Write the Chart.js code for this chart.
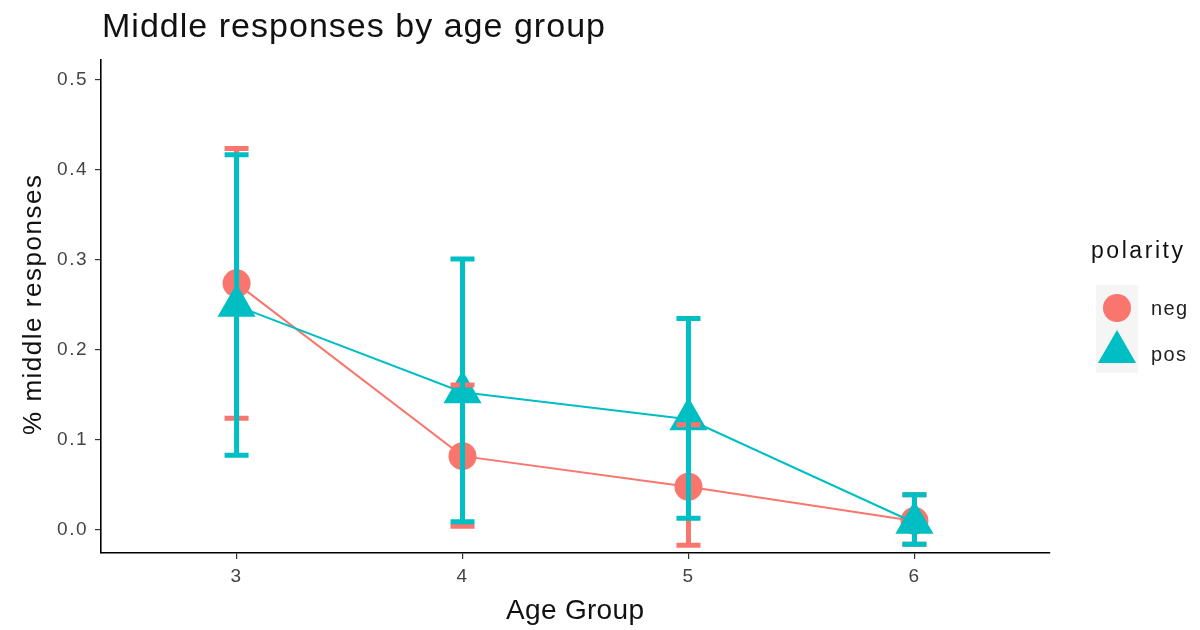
<!DOCTYPE html>
<html>
<head>
<meta charset="utf-8">
<title>Middle responses by age group</title>
<script src="https://cdn.jsdelivr.net/npm/chart.js"></script>
<style>
  html, body { margin: 0; padding: 0; background: #ffffff; }
  canvas { display: block; }
</style>
</head>
<body>
<canvas id="chart" width="1200" height="630"></canvas>
<script>
// Age groups on the x axis
const ageGroups = [3, 4, 5, 6];

// Share of middle responses, negative-polarity items
const negMean  = [0.274, 0.082, 0.048, 0.010];
const negLower = [0.124, 0.004, -0.017, -0.016];
const negUpper = [0.424, 0.161, 0.117, 0.039];

// Share of middle responses, positive-polarity items
const posMean  = [0.249, 0.153, 0.123, 0.008];
const posLower = [0.083, 0.009, 0.013, -0.016];
const posUpper = [0.417, 0.301, 0.235, 0.039];

// Axis tick values
const yTickValues = [0, 0.1, 0.2, 0.3, 0.4, 0.5];
const xTickValues = ageGroups;

const seriesNames = ['neg', 'pos'];
const legendTitle = 'polarity';
const chartTitle = 'Middle responses by age group';
const xTitle = 'Age Group';
const yTitle = '% middle responses';

const NEG_COLOR = '#F8766D';
const POS_COLOR = '#00BFC4';
const FONT = "'Liberation Sans', Arial, Helvetica, sans-serif";

function toPoints(xs, ys) {
  return xs.map((x, i) => ({ x: x, y: ys[i] }));
}

// Draw text spread out so that it fills the given width
function spreadText(ctx, text, x, y, size, width, color) {
  ctx.save();
  ctx.font = size + 'px ' + FONT;
  ctx.fillStyle = color;
  ctx.textAlign = 'left';
  ctx.textBaseline = 'alphabetic';
  if ('letterSpacing' in ctx) {
    ctx.letterSpacing = '0px';
    const w = ctx.measureText(text).width;
    const gap = text.length > 1 ? Math.max(0, (width - w) / (text.length - 1)) : 0;
    ctx.letterSpacing = gap.toFixed(2) + 'px';
  }
  ctx.fillText(text, x, y);
  ctx.restore();
}

function drawCircle(ctx, x, y, r, color) {
  ctx.beginPath();
  ctx.arc(x, y, r, 0, Math.PI * 2);
  ctx.fillStyle = color;
  ctx.fill();
}

function drawTriangle(ctx, x, y, r, color) {
  ctx.beginPath();
  for (let k = 0; k < 3; k++) {
    const a = k * 2 * Math.PI / 3;
    const px = x + Math.sin(a) * r;
    const py = y - Math.cos(a) * r;
    if (k === 0) ctx.moveTo(px, py); else ctx.lineTo(px, py);
  }
  ctx.closePath();
  ctx.fillStyle = color;
  ctx.fill();
}

// Error bars with caps, drawn on top of the lines and points
const errorBarPlugin = {
  id: 'errorBars',
  afterDatasetsDraw(chart) {
    const ctx = chart.ctx;
    const xs = chart.scales.x;
    const ys = chart.scales.y;
    const groups = [
      { lower: negLower, upper: negUpper, color: NEG_COLOR },
      { lower: posLower, upper: posUpper, color: POS_COLOR }
    ];
    const half = 12;
    ctx.save();
    ctx.lineCap = 'butt';
    ctx.lineWidth = 5;
    groups.forEach(g => {
      ctx.strokeStyle = g.color;
      ageGroups.forEach((age, i) => {
        const px = xs.getPixelForValue(age);
        const yl = ys.getPixelForValue(g.lower[i]);
        const yu = ys.getPixelForValue(g.upper[i]);
        ctx.beginPath();
        ctx.moveTo(px, yl);
        ctx.lineTo(px, yu);
        ctx.moveTo(px - half, yl);
        ctx.lineTo(px + half, yl);
        ctx.moveTo(px - half, yu);
        ctx.lineTo(px + half, yu);
        ctx.stroke();
      });
    });
    ctx.restore();
  }
};

// Slightly wider tick label spacing for the axes
const tickSpacingPlugin = {
  id: 'tickSpacing',
  beforeDraw(chart) {
    if ('letterSpacing' in chart.ctx) chart.ctx.letterSpacing = '1.5px';
  },
  beforeDatasetsDraw(chart) {
    if ('letterSpacing' in chart.ctx) chart.ctx.letterSpacing = '0px';
  }
};

// Title, axis titles and the polarity legend
const annotationPlugin = {
  id: 'annotations',
  afterDraw(chart) {
    const ctx = chart.ctx;
    spreadText(ctx, chartTitle, 102, 37, 34, 503, '#111111');
    spreadText(ctx, xTitle, 506, 619, 28, 138, '#111111');

    ctx.save();
    ctx.translate(41, 435);
    ctx.rotate(-Math.PI / 2);
    spreadText(ctx, yTitle, 0, 0, 26, 260, '#111111');
    ctx.restore();

    // legend
    spreadText(ctx, legendTitle, 1091, 258, 23, 92, '#111111');
    ctx.save();
    ctx.fillStyle = '#f5f5f5';
    ctx.fillRect(1096, 285, 42, 44);
    ctx.fillRect(1096, 329, 42, 44);
    ctx.restore();
    drawCircle(ctx, 1117, 308, 14, NEG_COLOR);
    drawTriangle(ctx, 1117, 352, 22, POS_COLOR);
    spreadText(ctx, seriesNames[0], 1151, 315, 20, 36, '#222222');
    spreadText(ctx, seriesNames[1], 1151, 361, 20, 35, '#222222');
  }
};

const ctx = document.getElementById('chart').getContext('2d');
new Chart(ctx, {
  type: 'line',
  data: {
    datasets: [
      {
        label: seriesNames[0],
        data: toPoints(ageGroups, negMean),
        borderColor: NEG_COLOR,
        backgroundColor: NEG_COLOR,
        borderWidth: 2,
        pointStyle: 'circle',
        pointRadius: 14,
        pointBorderWidth: 0,
        pointBackgroundColor: NEG_COLOR,
        tension: 0,
        fill: false,
        order: 1
      },
      {
        label: seriesNames[1],
        data: toPoints(ageGroups, posMean),
        borderColor: POS_COLOR,
        backgroundColor: POS_COLOR,
        borderWidth: 2,
        pointStyle: 'triangle',
        pointRadius: 22,
        pointBorderWidth: 0,
        pointBackgroundColor: POS_COLOR,
        tension: 0,
        fill: false,
        order: 0
      }
    ]
  },
  options: {
    responsive: false,
    animation: false,
    events: [],
    layout: { padding: { left: 0, right: 150, top: 60, bottom: 0 } },
    plugins: {
      legend: { display: false },
      title: { display: false },
      tooltip: { enabled: false }
    },
    scales: {
      x: {
        type: 'linear',
        min: 2.4,
        max: 6.6,
        afterFit(scale) { scale.height = 77; },
        afterBuildTicks(scale) { scale.ticks = xTickValues.map(v => ({ value: v })); },
        grid: { display: true, drawOnChartArea: false, drawTicks: true, tickLength: 6, color: '#333333', lineWidth: 1.2 },
        border: { display: true, color: '#000000', width: 1.6 },
        ticks: {
          padding: 6,
          color: '#444444',
          font: { family: FONT, size: 19 },
          callback: v => String(v),
          maxRotation: 0
        }
      },
      y: {
        type: 'linear',
        min: -0.0256,
        max: 0.5222,
        afterFit(scale) { scale.width = 101; },
        afterBuildTicks(scale) { scale.ticks = yTickValues.map(v => ({ value: v })); },
        grid: { display: true, drawOnChartArea: false, drawTicks: true, tickLength: 6, color: '#333333', lineWidth: 1.2 },
        border: { display: true, color: '#000000', width: 1.6 },
        ticks: {
          padding: 7,
          color: '#444444',
          font: { family: FONT, size: 19 },
          callback: v => Number(v).toFixed(1)
        }
      }
    }
  },
  plugins: [tickSpacingPlugin, errorBarPlugin, annotationPlugin]
});
</script>
</body>
</html>
